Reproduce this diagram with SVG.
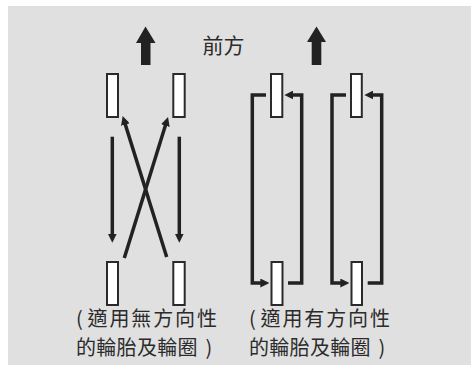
<svg xmlns="http://www.w3.org/2000/svg" width="471" height="365" viewBox="0 0 471 365">
<style>
.bg{fill:#e0e0e0}
.tire{fill:#ffffff;stroke:#2a2a2a;stroke-width:2}
.ln{fill:none;stroke:#222222;stroke-width:3.5;stroke-linejoin:miter}
.up{fill:#222222}
.t{font-family:"Noto Sans CJK TC","Noto Sans CJK SC",sans-serif;font-size:21px;fill:#2b2b2b}
.s{font-size:20px}
</style>
<defs>
<marker id="ah" viewBox="0 0 10 10" refX="5" refY="5" markerWidth="9" markerHeight="9" markerUnits="userSpaceOnUse" orient="auto">
<path d="M0,0 L10,5 L0,10 z" fill="#222222"/>
</marker>
</defs>
<rect class="bg" x="8" y="6" width="463" height="359"/>
<g id="forward-arrow-left"><polygon class="up" points="145.5,26.5 155.5,43 150.5,43 150.5,65 141,65 141,43 136,43"/></g>
<g id="forward-arrow-right"><polygon class="up" points="316.5,26.5 326,42 321.3,42 321.3,65 311.7,65 311.7,42 307,42"/></g>
<g id="label-forward"><text class="t" x="202.5" y="52.5">前方</text></g>
<g id="tire-1"><rect class="tire" x="107" y="74" width="11" height="43"/></g>
<g id="tire-2"><rect class="tire" x="173.3" y="74" width="11.4" height="43"/></g>
<g id="tire-3"><rect class="tire" x="107" y="262" width="11" height="43"/></g>
<g id="tire-4"><rect class="tire" x="173.3" y="262" width="11.4" height="43"/></g>
<g id="tire-5"><rect class="tire" x="271" y="74" width="11.3" height="43"/></g>
<g id="tire-6"><rect class="tire" x="351" y="74" width="10.8" height="43"/></g>
<g id="tire-7"><rect class="tire" x="271.5" y="262" width="11" height="43"/></g>
<g id="tire-8"><rect class="tire" x="351.5" y="262" width="10.5" height="43"/></g>
<g id="connectors">
<line class="ln" x1="112.3" y1="136.7" x2="112.3" y2="238.2" marker-end="url(#ah)"/>
<line class="ln" x1="179.3" y1="136.7" x2="179.3" y2="238.2" marker-end="url(#ah)"/>
<line class="ln" x1="166.7" y1="257" x2="124" y2="120.3" marker-end="url(#ah)"/>
<line class="ln" x1="124.3" y1="258" x2="166.7" y2="121.3" marker-end="url(#ah)"/>
<path class="ln" d="M266,95 H252.3 V283 H264.8" marker-end="url(#ah)"/>
<path class="ln" d="M288,283 H301.7 V95 H288.8" marker-end="url(#ah)"/>
<path class="ln" d="M346,95 H332 V283 H344.8" marker-end="url(#ah)"/>
<path class="ln" d="M367.7,283 H381.7 V95 H368.8" marker-end="url(#ah)"/>
</g>
<g id="label-left">
<text class="t s" y="326"><tspan x="76">(</tspan><tspan x="87.5" textLength="129.5" lengthAdjust="spacing">適用無方向性</tspan></text>
<text class="t s" y="355"><tspan x="76" textLength="121.5" lengthAdjust="spacing">的輪胎及輪圈</tspan><tspan x="205.5">)</tspan></text>
</g>
<g id="label-right">
<text class="t s" y="326"><tspan x="249">(</tspan><tspan x="260.5" textLength="129.5" lengthAdjust="spacing">適用有方向性</tspan></text>
<text class="t s" y="355"><tspan x="249" textLength="121.5" lengthAdjust="spacing">的輪胎及輪圈</tspan><tspan x="378.5">)</tspan></text>
</g>
</svg>
